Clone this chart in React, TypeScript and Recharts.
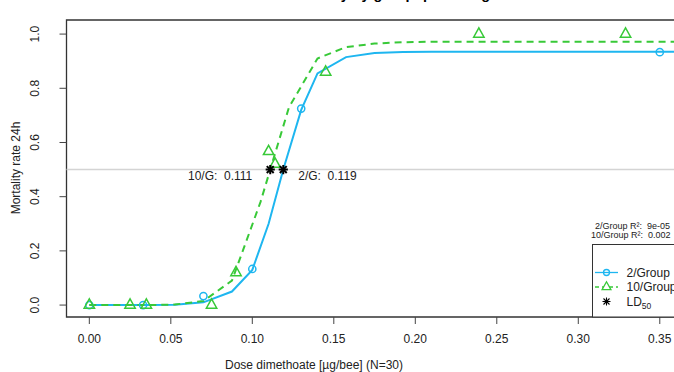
import React from 'react';
import { ComposedChart, Line, Scatter, XAxis, YAxis, ReferenceLine, ReferenceArea } from 'recharts';

// ---------- data ----------
const seriesNames = ['2/Group', '10/Group'];
const r2Values = ['9e-05', '0.002'];

// observed mortality (2/Group)
const g2Dose = [0, 0.033, 0.07, 0.1, 0.13, 0.35];
const g2Mort = [0, 0, 0.0333, 0.1333, 0.725, 0.9333];

// observed mortality (10/Group)
const g10Dose = [0, 0.025, 0.035, 0.075, 0.09, 0.11, 0.114, 0.145, 0.239, 0.329];
const g10Mort = [0, 0, 0, 0, 0.12, 0.5667, 0.52, 0.86, 1.0, 1.0];

// fitted curve (2/Group)
const fit2Dose = [0, 0.035, 0.0525, 0.07, 0.0875, 0.1, 0.11, 0.119, 0.13, 0.14, 0.1575, 0.175, 0.1925, 0.21, 0.36];
const fit2Mort = [0, 0, 0.001, 0.01, 0.05, 0.13, 0.3, 0.5, 0.72, 0.855, 0.915, 0.93, 0.934, 0.935, 0.935];

// fitted curve (10/Group)
const fit10Dose = [0, 0.035, 0.0525, 0.07, 0.0875, 0.105, 0.1225, 0.14, 0.1575, 0.175, 0.1925, 0.21, 0.36];
const fit10Mort = [0, 0, 0.002, 0.015, 0.09, 0.38, 0.73, 0.91, 0.952, 0.965, 0.97, 0.972, 0.972];

// LD50 estimates
const ldLabels = ['10/G', '2/G'];
const ldDose = [0.111, 0.119];
const ldLevel = 0.5;

const xTicks = [0, 0.05, 0.1, 0.15, 0.2, 0.25, 0.3, 0.35];
const yTicks = [0, 0.2, 0.4, 0.6, 0.8, 1.0];
const xDomain = [-0.014, 0.364];
const yDomain = [-0.044, 1.052];

const titleText = 'Mortality by group: probit regression';
const xLabel = 'Dose dimethoate [\u00b5g/bee] (N=30)';
const yLabel = 'Mortality rate 24h';

// ---------- style ----------
const BLUE = '#1EB6F0';
const GREEN = '#38C938';
const FONT = '"Liberation Sans", Arial, sans-serif';
const TXT = '#222';

const zip = (xs: number[], ys: number[]) => xs.map((x, i) => ({ x, y: ys[i] }));
const g2Pts = zip(g2Dose, g2Mort);
const g10Pts = zip(g10Dose, g10Mort);
const fit2 = zip(fit2Dose, fit2Mort);
const fit10 = zip(fit10Dose, fit10Mort);
const ldPts = ldDose.map((x, i) => ({ x, y: ldLevel, label: ldLabels[i], side: i === 0 ? 'left' : 'right' }));

const Circle = (p: any) => (
  <circle cx={p.cx} cy={p.cy} r={3.6} fill="none" stroke={BLUE} strokeWidth={1.5} />
);

const triPath = (cx: number, cy: number, s = 1) =>
  `M${cx},${cy - 6.2 * s} L${cx + 5.2 * s},${cy + 3.1 * s} L${cx - 5.2 * s},${cy + 3.1 * s} Z`;

const Triangle = (p: any) => (
  <path d={triPath(p.cx, p.cy)} fill="none" stroke={GREEN} strokeWidth={1.5} strokeLinejoin="miter" />
);

const Star = ({ cx, cy, a = 4.6, w = 2 }: any) => {
  const d = a * 0.75;
  return (
    <g stroke="#000" strokeWidth={w} strokeLinecap="butt">
      <line x1={cx - a} y1={cy} x2={cx + a} y2={cy} />
      <line x1={cx} y1={cy - a} x2={cx} y2={cy + a} />
      <line x1={cx - d} y1={cy - d} x2={cx + d} y2={cy + d} />
      <line x1={cx - d} y1={cy + d} x2={cx + d} y2={cy - d} />
    </g>
  );
};

const LdShape = (p: any) => {
  const left = p.payload.side === 'left';
  return (
    <g>
      <Star cx={p.cx} cy={p.cy} />
      <text
        x={left ? p.cx - 18 : p.cx + 15}
        y={p.cy + 10.5}
        textAnchor={left ? 'end' : 'start'}
        fontSize={12}
        fontFamily={FONT}
        fill={TXT}
        style={{ whiteSpace: 'pre' }}
      >
        {`${p.payload.label}:  ${p.payload.x.toFixed(3)}`}
      </text>
    </g>
  );
};

const YTick = (p: any) => {
  const bx = p.x - 18;
  return (
    <text x={bx} y={p.y} transform={`rotate(-90 ${bx} ${p.y})`} textAnchor="middle" fontSize={12} fontFamily={FONT} fill={TXT}>
      {Number(p.payload.value).toFixed(1)}
    </text>
  );
};

const XTick = (p: any) => (
  <text x={p.x} y={p.y + 17} textAnchor="middle" fontSize={12} fontFamily={FONT} fill={TXT}>
    {Number(p.payload.value).toFixed(2)}
  </text>
);

export default function App() {
  return (
    <div style={{ position: 'absolute', left: 0, top: 0, width: 674, height: 372, overflow: 'hidden', background: '#fff', fontFamily: FONT }}>
      <ComposedChart width={700} height={372} margin={{ top: 20, right: 17.4, bottom: 0, left: 0 }}>
        <XAxis
          type="number"
          dataKey="x"
          domain={xDomain}
          ticks={xTicks}
          allowDataOverflow
          axisLine={false}
          tickLine={{ stroke: '#444' }}
          tickSize={7}
          height={55}
          tick={<XTick />}
          interval={0}
        />
        <YAxis
          type="number"
          dataKey="y"
          domain={yDomain}
          ticks={yTicks}
          allowDataOverflow
          axisLine={false}
          tickLine={{ stroke: '#444' }}
          tickSize={7}
          width={66.5}
          tick={<YTick />}
          interval={0}
        />
        <ReferenceLine y={ldLevel} stroke="#d4d4d4" strokeWidth={1.5} />
        <ReferenceArea x1={xDomain[0]} x2={xDomain[1]} y1={yDomain[0]} y2={yDomain[1]} fill="none" stroke="#333" strokeWidth={1.3} ifOverflow="visible" />
        <Line data={fit2} dataKey="y" type="linear" stroke={BLUE} strokeWidth={2} dot={false} isAnimationActive={false} />
        <Line data={fit10} dataKey="y" type="linear" stroke={GREEN} strokeWidth={2} strokeDasharray="7 5" dot={false} isAnimationActive={false} />
        <Scatter data={g2Pts} dataKey="y" shape={<Circle />} isAnimationActive={false} />
        <Scatter data={g10Pts} dataKey="y" shape={<Triangle />} isAnimationActive={false} />
        <Scatter data={ldPts} dataKey="y" shape={<LdShape />} isAnimationActive={false} />
      </ComposedChart>
      <svg width={674} height={372} style={{ position: 'absolute', left: 0, top: 0, pointerEvents: 'none' }} fontFamily={FONT}>
        <text x={415} y={-1} textAnchor="middle" fontWeight="bold" fontSize={14.4} fill="#000">{titleText}</text>
        <text x={19.5} y={168} transform="rotate(-90 19.5 168)" textAnchor="middle" fontSize={12} fill={TXT}>{yLabel}</text>
        <text x={314} y={369} textAnchor="middle" fontSize={12} fill={TXT}>{xLabel}</text>
        {/* R² notes */}
        <text x={595} y={228.5} fontSize={9} fill={TXT} style={{ whiteSpace: 'pre' }}>{`${seriesNames[0]} R\u00b2:  ${r2Values[0]}`}</text>
        <text x={591} y={237.8} fontSize={9} fill={TXT} style={{ whiteSpace: 'pre' }}>{`${seriesNames[1]} R\u00b2:  ${r2Values[1]}`}</text>
        {/* legend */}
        <rect x={592.5} y={244.5} width={120} height={72.5} fill="#fff" stroke="#333" strokeWidth={1} />
        <line x1={595} x2={618} y1={272.5} y2={272.5} stroke={BLUE} strokeWidth={1.3} />
        <circle cx={606.5} cy={272.5} r={3} fill="none" stroke={BLUE} strokeWidth={1.3} />
        <text x={626.5} y={276.8} fontSize={12} fill={TXT}>{seriesNames[0]}</text>
        <line x1={595} x2={618} y1={287} y2={287} stroke={GREEN} strokeWidth={1.3} strokeDasharray="4 3" />
        <path d={triPath(606.5, 287, 0.85)} fill="#fff" stroke={GREEN} strokeWidth={1.3} />
        <text x={626.5} y={291.3} fontSize={12} fill={TXT}>{seriesNames[1]}</text>
        <Star cx={606.5} cy={301.5} a={4} w={1.1} />
        <text x={626.5} y={305.8} fontSize={12} fill={TXT}>LD<tspan fontSize={8.5} dy={3}>50</tspan></text>
      </svg>
    </div>
  );
}
